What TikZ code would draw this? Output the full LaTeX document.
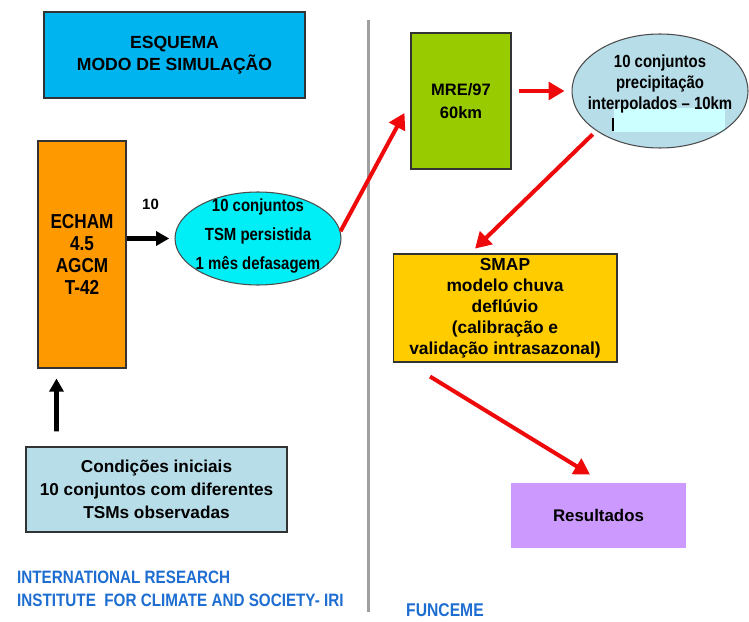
\documentclass[tikz,border=0pt]{standalone}
\usepackage{fontspec}
\setmainfont{Liberation Sans}
\newfontfamily\estreita{Liberation Sans}[FakeStretch=0.85]
\usetikzlibrary{arrows.meta,shapes.geometric}

\definecolor{azulTitulo}{RGB}{0,180,240}
\definecolor{laranja}{RGB}{255,153,0}
\definecolor{ciano}{RGB}{0,238,245}
\definecolor{verde}{RGB}{153,204,0}
\definecolor{azulClaro}{RGB}{183,221,232}
\definecolor{cianoClaro}{RGB}{204,255,255}
\definecolor{amarelo}{RGB}{255,204,0}
\definecolor{lilas}{RGB}{204,153,255}
\definecolor{azulTexto}{RGB}{30,110,210}
\definecolor{vermelho}{RGB}{238,10,10}

\begin{document}
\begin{tikzpicture}[x=0.02cm, y=-0.02cm,
    caixa/.style={draw=black!80, line width=0.6pt, inner sep=0pt, align=center},
    elipse/.style={ellipse, draw=black!70, line width=0.6pt, inner sep=0pt},
    setapreta/.style={line width=2.8pt, -{Triangle[length=7.5pt, width=8pt]}},
    setavermelha/.style={vermelho, line width=2.3pt, -{Triangle[length=9pt, width=10pt]}}]

    \useasboundingbox (0,0) rectangle (749,621);
    \fill[white] (0,0) rectangle (749,621);

    % Lado IRI
    \node[caixa, fill=azulTitulo, minimum width=5.22cm, minimum height=1.72cm,
          font=\bfseries\fontsize{10}{12.5}\selectfont] (titulo) at (174.5,55)
          {ESQUEMA\\MODO DE SIMULAÇÃO};

    \node[caixa, fill=laranja, minimum width=1.76cm, minimum height=4.54cm,
          font=\estreita\bfseries\fontsize{11.5}{12.5}\selectfont] (echam) at (82,254.5)
          {ECHAM\\4.5\\AGCM\\T-42};

    \node[elipse, fill=ciano, minimum width=3.32cm, minimum height=1.86cm,
          label={[align=center, yshift=0.05cm, font=\estreita\bfseries\fontsize{10}{16.5}\selectfont]center:%
          {10 conjuntos\\TSM persistida\\1 mês defasagem}}] (tsm) at (258,238.5) {};

    \node[caixa, fill=azulClaro, minimum width=5.22cm, minimum height=1.7cm,
          font=\bfseries\fontsize{9.8}{13}\selectfont] (cond) at (156.5,489.5)
          {Condições iniciais\\10 conjuntos com diferentes\\TSMs observadas};

    \draw[setapreta, shorten >=3pt] (echam.east |- tsm.west) -- (tsm.west)
        node[midway, above=0.42cm, font=\bfseries\fontsize{8.5}{10}\selectfont] (dez) {10};
    \draw[setapreta] ([xshift=0.62cm, yshift=0.3cm]cond.north west)
        -- ([xshift=0.38cm, yshift=-0.2cm]echam.south west);

    \node[anchor=west, align=left, text=azulTexto,
          font=\estreita\bfseries\fontsize{10.2}{13}\selectfont] (iri) at (11,588.5)
          {INTERNATIONAL RESEARCH\\INSTITUTE~ FOR CLIMATE AND SOCIETY- IRI};

    % Divisoria
    \draw[gray!75, line width=1.7pt] (368,20) -- (368,612);

    % Lado FUNCEME
    \node[caixa, fill=verde, minimum width=2cm, minimum height=2.72cm,
          font=\bfseries\fontsize{9.4}{13}\selectfont] (mre) at (461,101)
          {MRE/97\\60km};

    \fill[azulClaro] (660,91) ellipse (88 and 57);
    \fill[cianoClaro] (614,108) rectangle (725,132);
    \node[elipse, minimum width=3.52cm, minimum height=2.28cm,
          label={[align=center, yshift=0.14cm, font=\estreita\bfseries\fontsize{10}{11.7}\selectfont]center:%
          {10 conjuntos\\precipitação\\interpolados – 10km}}] (prec) at (660,91) {};
    \draw[line width=0.9pt] (613,118) -- (613,131);

    \node[caixa, fill=amarelo, minimum width=4.48cm, minimum height=2.16cm,
          font=\bfseries\fontsize{9.9}{12}\selectfont] (smap) at (505,308)
          {SMAP\\modelo chuva\\deflúvio\\(calibração e\\validação intrasazonal)};

    \node[caixa, draw=none, fill=lilas, minimum width=3.5cm, minimum height=1.3cm,
          font=\bfseries\fontsize{9.6}{12}\selectfont] (res) at (598.5,515.5)
          {Resultados};

    \draw[setavermelha] (tsm.5) -- ([xshift=-0.12cm, yshift=-0.24cm]mre.west);
    \draw[setavermelha, shorten <=0.14cm, shorten >=0.14cm] (mre.east |- prec.west) -- (prec.west);
    \draw[setavermelha, shorten <=0.1cm, shorten >=0.14cm] (prec.212) -- ([xshift=-0.7cm]smap.north);
    \draw[setavermelha] ([xshift=-1.5cm, yshift=-0.28cm]smap.south)
        -- ([xshift=-0.17cm, yshift=0.16cm]res.north);

    \node[text=azulTexto, font=\estreita\bfseries\fontsize{10.5}{12}\selectfont] (funceme) at (445,610)
          {FUNCEME};
\end{tikzpicture}
\end{document}
